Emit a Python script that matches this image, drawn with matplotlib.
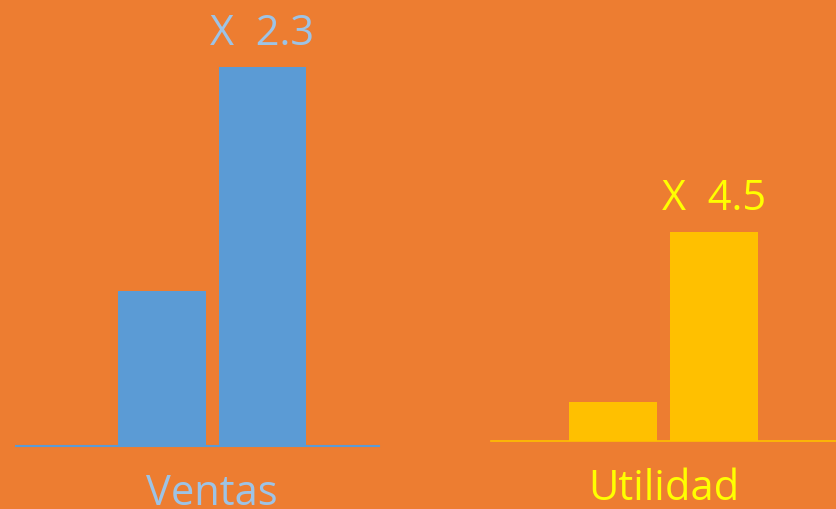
import matplotlib
matplotlib.use('Agg')
import matplotlib.pyplot as plt

# colours
bg_orange = '#ED7D31'
blue_bar = '#5B9BD5'
blue_text = '#9DC3E6'
yellow_bar = '#FFC000'
yellow_text = '#FFFF00'

# data (bar heights, same scale for both groups)
ventas = [155, 379]
utilidad = [39, 209]
ventas_label = 'X  2.3'
utilidad_label = 'X  4.5'
groups = ['Ventas', 'Utilidad']

plt.rcParams['font.family'] = ['Open Sans', 'DejaVu Sans']

W, H = 836, 509
fig = plt.figure(figsize=(W / 100, H / 100), dpi=100)
fig.patch.set_facecolor(bg_orange)


def px_axes(left, right, base):
    """Axes spanning pixel columns left..right with bottom at pixel row base."""
    ax = fig.add_axes([left / W, 1 - base / H, (right - left) / W, base / H])
    ax.set_facecolor('none')
    for s in ax.spines.values():
        s.set_visible(False)
    ax.set_xticks([])
    ax.set_yticks([])
    ax.set_ylim(0, base)
    return ax


def draw_group(ax, values, xlim, bar_color, line_color, line_w, text_color, top_label, name):
    ax.set_xlim(*xlim)
    ax.bar([0, 1], values, width=0.875, color=bar_color, zorder=2)
    ax.axhline(0, color=line_color, lw=line_w, zorder=1, clip_on=False)
    ax.annotate(top_label, xy=(1, values[1]), xytext=(0, 16), textcoords='offset points',
                ha='center', va='baseline', fontsize=30, color=text_color, annotation_clip=False)
    ax.annotate(name, xy=(0.5, 0), xytext=(0, -42.5), textcoords='offset points',
                ha='center', va='baseline', fontsize=30, color=text_color, annotation_clip=False)


ax1 = px_axes(16, 379, 446)
draw_group(ax1, ventas, (-1.453, 2.159), blue_bar, blue_bar, 1.5, blue_text,
           ventas_label, groups[0])

ax2 = px_axes(491, 836, 441)
draw_group(ax2, utilidad, (-1.208, 2.208), yellow_bar, yellow_bar, 1.2, yellow_text,
           utilidad_label, groups[1])

fig.savefig('out.png', dpi=100, facecolor=bg_orange)
